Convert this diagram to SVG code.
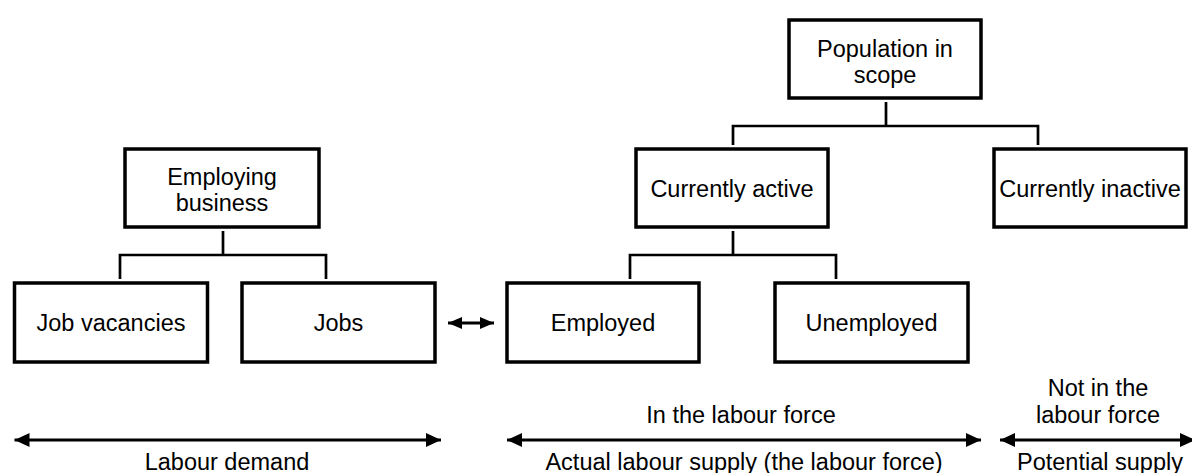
<svg xmlns="http://www.w3.org/2000/svg" width="1192" height="473" viewBox="0 0 1192 473">
  <style>
    .box { fill: #ffffff; stroke: #000000; stroke-width: 3.5; }
    .link { fill: none; stroke: #000000; stroke-width: 2.7; }
    .span { fill: none; stroke: #000000; stroke-width: 3; }
    text { font-family: "Liberation Sans", Arial, sans-serif; font-size: 23.5px; fill: #000000; text-anchor: middle; }
  </style>
  <defs>
    <marker id="head" markerUnits="userSpaceOnUse" markerWidth="16" markerHeight="16" refX="15" refY="7.5" orient="auto-start-reverse">
      <path d="M0,0.5 L15,7.5 L0,14.5 Z" fill="#000000"/>
    </marker>
    <marker id="headSmall" markerUnits="userSpaceOnUse" markerWidth="15" markerHeight="14" refX="14" refY="7" orient="auto-start-reverse">
      <path d="M0,1 L14,7 L0,13 Z" fill="#000000"/>
    </marker>
  </defs>

  <!-- tree connectors and range arrows -->
  <g id="connectors">
    <path class="link" d="M886,102 V126 M733,145 V126 H1038 V145"/>
    <path class="link" d="M223,231 V255 M120,279 V255 H326 V279"/>
    <path class="link" d="M733,231 V255 M630,279 V255 H836 V279"/>
    <line class="span" x1="448" y1="323" x2="494" y2="323" marker-start="url(#headSmall)" marker-end="url(#headSmall)"/>
    <line class="span" x1="14.5" y1="440" x2="441" y2="440" marker-start="url(#head)" marker-end="url(#head)"/>
    <line class="span" x1="507" y1="440" x2="981" y2="440" marker-start="url(#head)" marker-end="url(#head)"/>
    <line class="span" x1="1000" y1="440" x2="1195" y2="440" marker-start="url(#head)" marker-end="url(#head)"/>
  </g>

  <g id="population">
    <rect class="box" x="789" y="20" width="192" height="78"/>
    <text x="885" y="57">Population in</text>
    <text x="885" y="82.5">scope</text>
  </g>

  <g id="employing-business">
    <rect class="box" x="125" y="149" width="194" height="78"/>
    <text x="222" y="184.5">Employing</text>
    <text x="222" y="210.5">business</text>
  </g>

  <g id="currently-active">
    <rect class="box" x="636" y="149" width="192" height="78"/>
    <text x="732" y="196.5">Currently active</text>
  </g>

  <g id="currently-inactive">
    <rect class="box" x="994" y="149" width="192" height="78"/>
    <text x="1090" y="196.5">Currently inactive</text>
  </g>

  <g id="job-vacancies">
    <rect class="box" x="14.5" y="283" width="193" height="79"/>
    <text x="111" y="331">Job vacancies</text>
  </g>

  <g id="jobs">
    <rect class="box" x="242" y="283" width="193" height="79"/>
    <text x="338.5" y="331">Jobs</text>
  </g>

  <g id="employed">
    <rect class="box" x="507" y="283" width="192" height="79"/>
    <text x="603" y="331">Employed</text>
  </g>

  <g id="unemployed">
    <rect class="box" x="775" y="283" width="193" height="79"/>
    <text x="871.5" y="331">Unemployed</text>
  </g>

  <g id="range-labels">
    <text x="741" y="423">In the labour force</text>
    <text x="1098" y="396">Not in the</text>
    <text x="1098" y="423">labour force</text>
    <text x="227" y="470">Labour demand</text>
    <text x="744" y="470">Actual labour supply (the labour force)</text>
    <text x="1100" y="470">Potential supply</text>
  </g>
</svg>
